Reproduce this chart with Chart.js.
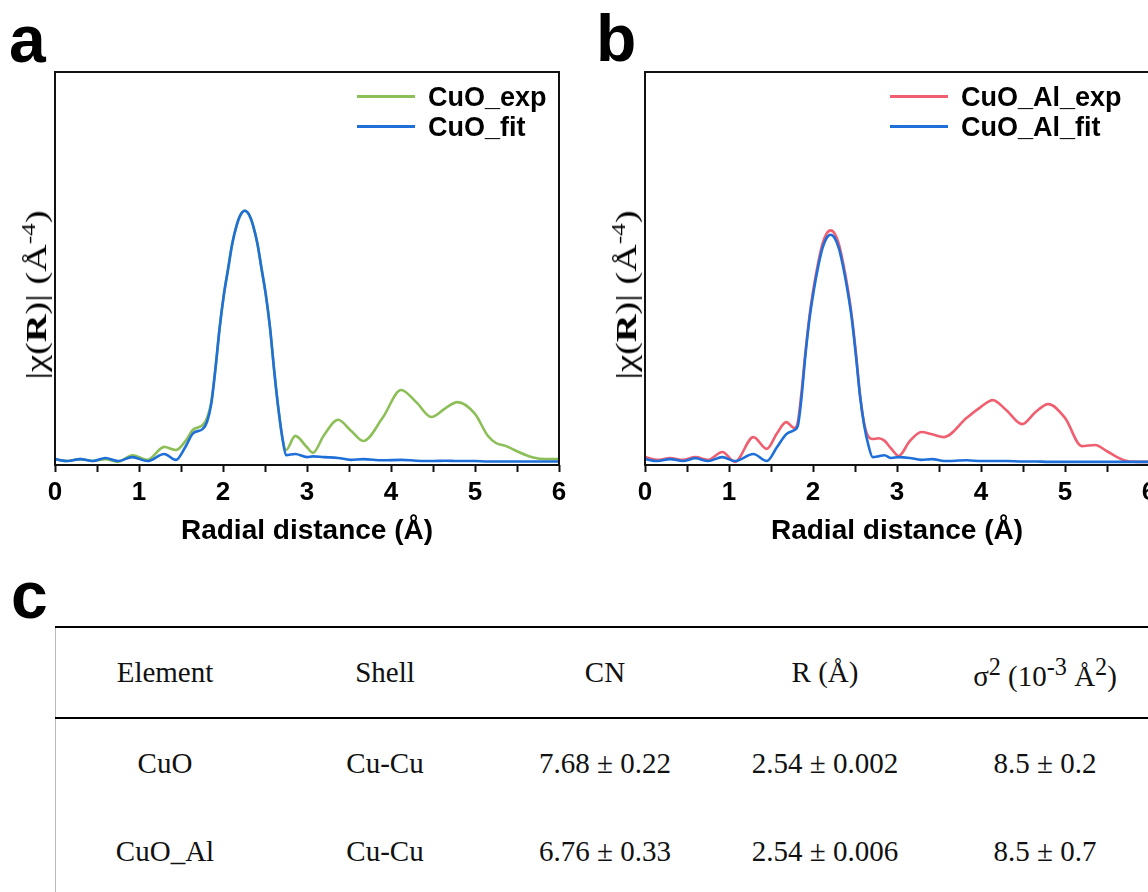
<!DOCTYPE html>
<html>
<head>
<meta charset="utf-8">
<script src="https://cdn.jsdelivr.net/npm/chart.js@4"></script>
<style>
  html, body { margin: 0; padding: 0; background: #fff; }
  body { width: 1148px; height: 892px; position: relative; overflow: hidden; font-family: "Liberation Sans", Arial, sans-serif; }
  .panel { position: absolute; top: 0; width: 580px; height: 560px; }
  .panel canvas { position: absolute; left: 0; top: 0; }
  .letter { position: absolute; font-weight: bold; font-size: 66px; line-height: 1; color: #000; }
  .legend { position: absolute; font-weight: bold; font-size: 27px; color: #000; }
  .legend div { height: 30px; line-height: 30px; white-space: nowrap; }
  .legend span.sw { display: inline-block; width: 58px; height: 3px; vertical-align: middle; margin-right: 13px; position: relative; top: -2px; }
  .ylab { position: absolute; width: 260px; height: 36px; line-height: 36px; text-align: center; white-space: nowrap;
          font-family: "Liberation Serif", "Times New Roman", serif; font-size: 29px; color: #000;
          transform: rotate(-90deg) scaleX(1.32); }
  .ylab sup { font-size: 19px; vertical-align: 11px; line-height: 0; }
  table { position: absolute; left: 55px; top: 626px; width: 1100px; border-collapse: collapse;
          font-family: "Liberation Serif", "Times New Roman", serif; font-size: 29px; color: #111; }
  th, td { width: 220px; text-align: center; font-weight: normal; padding: 0; }
  thead tr { height: 91px; border-top: 2px solid #000; border-bottom: 2px solid #000; }
  tbody tr { height: 89px; }
  .vline { position: absolute; left: 55px; top: 627px; width: 1px; height: 265px; background: #bbb; }
</style>
</head>
<body>

<div class="letter" style="left:9px; top:6px;">a</div>
<div class="letter" style="left:596px; top:5px;">b</div>
<div class="letter" style="left:11px; top:562px;">c</div>

<div class="panel" style="left:0px;"><canvas id="chartA" width="580" height="560"></canvas></div>
<div class="panel" style="left:590px;"><canvas id="chartB" width="580" height="560"></canvas></div>

<div class="ylab" style="left:-94px; top:277px;">|χ(<b>R</b>)| (Å<sup>-4</sup>)</div>
<div class="ylab" style="left:496px; top:277px;">|χ(<b>R</b>)| (Å<sup>-4</sup>)</div>

<div class="legend" style="left:357px; top:82px;">
  <div><span class="sw" style="background:#8cbf57"></span>CuO_exp</div>
  <div><span class="sw" style="background:#1f6fd9"></span>CuO_fit</div>
</div>
<div class="legend" style="left:890px; top:82px;">
  <div><span class="sw" style="background:#f05f70"></span>CuO_Al_exp</div>
  <div><span class="sw" style="background:#1f6fd9"></span>CuO_Al_fit</div>
</div>

<div class="vline"></div>
<table id="fitTable">
  <thead><tr id="headRow"></tr></thead>
  <tbody id="bodyRows"></tbody>
</table>

<script>
// panel a: radial distance grid and |chi(R)| values
const rA = [0, 0.15, 0.3, 0.45, 0.6, 0.75, 0.92, 1.1, 1.3, 1.44, 1.55, 1.64, 1.76, 1.81, 1.86,
    1.91, 1.96, 2.01, 2.06, 2.11, 2.16, 2.21, 2.26, 2.31, 2.36, 2.41, 2.46, 2.51, 2.56, 2.61,
    2.66, 2.71, 2.75, 2.86, 3.0, 3.07, 3.2, 3.37, 3.52, 3.67, 3.9, 4.12, 4.3, 4.48, 4.65,
    4.79, 5.0, 5.15, 5.25, 5.37, 5.5, 5.68, 5.85, 6.0];
const cuoExp = [0.15, 0.10, 0.15, 0.10, 0.15, 0.08, 0.25, 0.13, 0.46, 0.38, 0.60, 0.89, 1.02, 1.20, 1.60,
    2.45, 3.49, 4.33, 4.98, 5.63, 6.08, 6.37, 6.47, 6.37, 6.08, 5.63, 4.98, 4.33, 3.49, 2.39,
    1.42, 0.65, 0.38, 0.74, 0.45, 0.31, 0.75, 1.15, 0.88, 0.61, 1.20, 1.91, 1.60, 1.22, 1.45,
    1.60, 1.30, 0.75, 0.56, 0.48, 0.35, 0.20, 0.15, 0.15];
const cuoFit = [0.15, 0.10, 0.15, 0.10, 0.18, 0.10, 0.20, 0.10, 0.28, 0.13, 0.45, 0.80, 0.92, 1.10, 1.55,
    2.45, 3.49, 4.33, 4.98, 5.63, 6.08, 6.37, 6.47, 6.37, 6.08, 5.63, 4.98, 4.33, 3.49, 2.39,
    1.42, 0.65, 0.25, 0.28, 0.20, 0.22, 0.20, 0.18, 0.13, 0.15, 0.12, 0.13, 0.11, 0.10, 0.11,
    0.10, 0.10, 0.09, 0.09, 0.09, 0.09, 0.09, 0.09, 0.09];

// panel b
const rB = [0, 0.15, 0.3, 0.45, 0.6, 0.75, 0.92, 1.07, 1.29, 1.45, 1.57, 1.68, 1.78, 1.82, 1.86,
    1.91, 1.96, 2.01, 2.06, 2.11, 2.16, 2.21, 2.26, 2.31, 2.36, 2.41, 2.46, 2.51, 2.56, 2.61,
    2.66, 2.71, 2.78, 2.85, 2.93, 3.02, 3.15, 3.29, 3.42, 3.56, 3.83, 4.0, 4.14, 4.3, 4.49,
    4.65, 4.8, 5.0, 5.2, 5.36, 5.5, 5.69, 5.85, 6.0];
const cuoAlExp = [0.20, 0.13, 0.18, 0.13, 0.20, 0.13, 0.33, 0.08, 0.71, 0.41, 0.80, 1.09, 0.94, 1.10, 1.79,
    2.87, 3.82, 4.54, 5.13, 5.61, 5.88, 5.97, 5.88, 5.61, 5.13, 4.54, 3.82, 2.87, 1.79, 1.05,
    0.72, 0.66, 0.68, 0.62, 0.42, 0.23, 0.60, 0.84, 0.78, 0.71, 1.20, 1.48, 1.65, 1.40, 1.04,
    1.35, 1.55, 1.20, 0.48, 0.51, 0.35, 0.13, 0.08, 0.08];
const cuoAlFit = [0.15, 0.10, 0.15, 0.10, 0.17, 0.10, 0.20, 0.10, 0.28, 0.10, 0.45, 0.78, 0.89, 1.00, 1.65,
    2.80, 3.75, 4.45, 5.03, 5.50, 5.77, 5.86, 5.77, 5.50, 5.03, 4.45, 3.75, 2.80, 1.75, 1.00,
    0.50, 0.20, 0.22, 0.25, 0.18, 0.20, 0.18, 0.13, 0.15, 0.10, 0.12, 0.10, 0.10, 0.10, 0.09,
    0.09, 0.08, 0.08, 0.08, 0.08, 0.08, 0.08, 0.08, 0.08];

// table c
const tableHead = ['Element', 'Shell', 'CN', 'R (Å)', 'σ<sup>2</sup> (10<sup>-3</sup> Å<sup>2</sup>)'];
const samples = ['CuO', 'CuO_Al'];
const shells = ['Cu-Cu', 'Cu-Cu'];
const cnVals = ['7.68 ± 0.22', '6.76 ± 0.33'];
const rVals = ['2.54 ± 0.002', '2.54 ± 0.006'];
const sigmaVals = ['8.5 ± 0.2', '8.5 ± 0.7'];

document.getElementById('headRow').innerHTML = tableHead.map(h => '<th>' + h + '</th>').join('');
document.getElementById('bodyRows').innerHTML = samples.map((s, i) =>
    '<tr><td>' + [s, shells[i], cnVals[i], rVals[i], sigmaVals[i]].join('</td><td>') + '</td></tr>').join('');

const pts = (xs, ys) => xs.map((x, i) => ({x: x, y: ys[i]}));

// full box round the plot area
const frame = {
    id: 'frame',
    afterDraw(chart) {
        const {ctx, chartArea: a} = chart;
        ctx.save();
        ctx.strokeStyle = '#111';
        ctx.lineWidth = 2;
        ctx.strokeRect(a.left, a.top, a.right - a.left, a.bottom - a.top);
        ctx.restore();
    }
};

function makeChart(id, xs, exp, fit, expColor) {
    return new Chart(document.getElementById(id), {
        type: 'line',
        data: {
            datasets: [
                {
                    data: pts(xs, fit),
                    borderColor: '#1f6fd9',
                    borderWidth: 2.6,
                    pointRadius: 0,
                    cubicInterpolationMode: 'monotone',
                    order: 0
                },
                {
                    data: pts(xs, exp),
                    borderColor: expColor,
                    borderWidth: 2.6,
                    pointRadius: 0,
                    cubicInterpolationMode: 'monotone',
                    order: 1
                }
            ]
        },
        options: {
            responsive: false,
            animation: false,
            layout: { padding: { top: 72, right: 21, left: 0, bottom: 0 } },
            plugins: { legend: { display: false }, tooltip: { enabled: false } },
            scales: {
                x: {
                    type: 'linear',
                    min: 0, max: 6,
                    afterFit: (s) => { s.height = 95; },
                    border: { display: false },
                    grid: { drawOnChartArea: false, drawTicks: true, tickLength: 7, tickWidth: 2, color: '#111' },
                    ticks: {
                        stepSize: 0.5,
                        autoSkip: false,
                        maxRotation: 0,
                        padding: 5,
                        color: '#000',
                        font: { family: 'Liberation Sans', size: 26, weight: 'bold' },
                        callback: (v) => Number.isInteger(v) ? String(v) : ''
                    },
                    title: {
                        display: true,
                        text: 'Radial distance (Å)',
                        color: '#000',
                        padding: { bottom: 12 },
                        font: { family: 'Liberation Sans', size: 28, weight: 'bold' }
                    }
                },
                y: {
                    min: 0, max: 10,
                    afterFit: (s) => { s.width = 55; },
                    border: { display: false },
                    grid: { display: false },
                    ticks: { display: false }
                }
            }
        },
        plugins: [frame]
    });
}

makeChart('chartA', rA, cuoExp, cuoFit, '#8cbf57');
makeChart('chartB', rB, cuoAlExp, cuoAlFit, '#f05f70');
</script>
</body>
</html>
